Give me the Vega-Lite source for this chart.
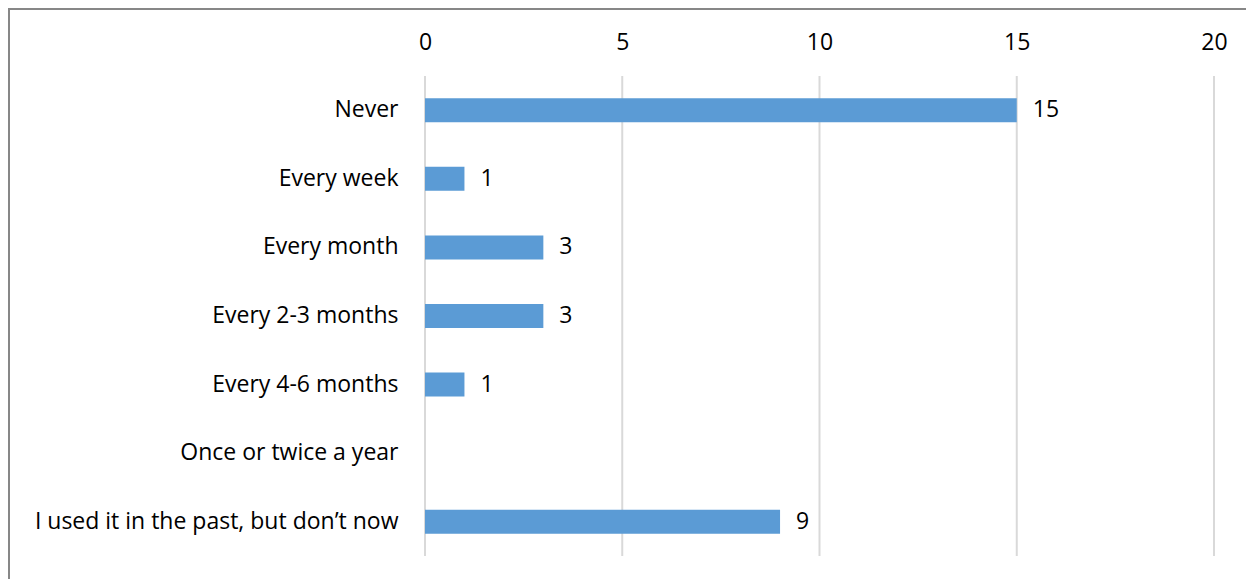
{
  "$schema": "https://vega.github.io/schema/vega-lite/v6.json",
  "autosize": "none",
  "width": 1250,
  "height": 600,
  "padding": {"left": 9, "top": 9, "right": 0, "bottom": 0},
  "background": "white",
  "config": {
    "view": {"stroke": "#878787", "strokeWidth": 2},
    "font": "Open Sans",
    "axis": {"labelFont": "Open Sans", "labelFontSize": 23, "labelColor": "#000000"}
  },
  "datasets": {
    "answers": [
      {"cat": "Never", "n": 15},
      {"cat": "Every week", "n": 1},
      {"cat": "Every month", "n": 3},
      {"cat": "Every 2-3 months", "n": 3},
      {"cat": "Every 4-6 months", "n": 1},
      {"cat": "Once or twice a year", "n": 0},
      {"cat": "I used it in the past, but don’t now", "n": 9}
    ],
    "grid": [{"v": 0}, {"v": 5}, {"v": 10}, {"v": 15}, {"v": 20}]
  },
  "layer": [
    {
      "data": {"name": "grid"},
      "mark": {"type": "rule", "color": "#d9d9d9", "strokeWidth": 2},
      "encoding": {
        "x": {
          "field": "v", "type": "quantitative",
          "scale": {"domain": [0, 20], "range": [416, 1205], "nice": false, "zero": false},
          "axis": {"orient": "top", "offset": -67, "values": [0, 5, 10, 15, 20], "format": "d", "domain": false, "ticks": false, "grid": false, "labelPadding": 22, "title": null, "labelFlush": false}
        },
        "y": {"datum": 0, "type": "quantitative", "scale": {"domain": [0, 1], "range": [547, 67]}, "axis": null},
        "y2": {"datum": 1}
      }
    },
    {
      "data": {"name": "answers"},
      "layer": [
        {
          "mark": {"type": "bar", "color": "#5b9bd5"},
          "encoding": {
            "y": {
              "field": "cat", "type": "nominal", "sort": null,
              "scale": {"range": [67, 547], "paddingInner": 0.65, "paddingOuter": 0.325},
              "axis": {"orient": "left", "offset": -416, "domain": false, "ticks": false, "labelPadding": 27, "title": null, "labelLimit": 500}
            },
            "x": {"field": "n", "type": "quantitative"}
          }
        },
        {
          "transform": [{"filter": "datum.n > 0"}],
          "mark": {"type": "text", "align": "left", "baseline": "middle", "dx": 16, "fontSize": 23, "font": "Open Sans", "color": "#000000"},
          "encoding": {
            "y": {"field": "cat", "type": "nominal", "sort": null},
            "x": {"field": "n", "type": "quantitative"},
            "text": {"field": "n", "type": "quantitative"}
          }
        }
      ]
    }
  ],
  "resolve": {"scale": {"y": "independent"}, "axis": {"y": "independent"}}
}
